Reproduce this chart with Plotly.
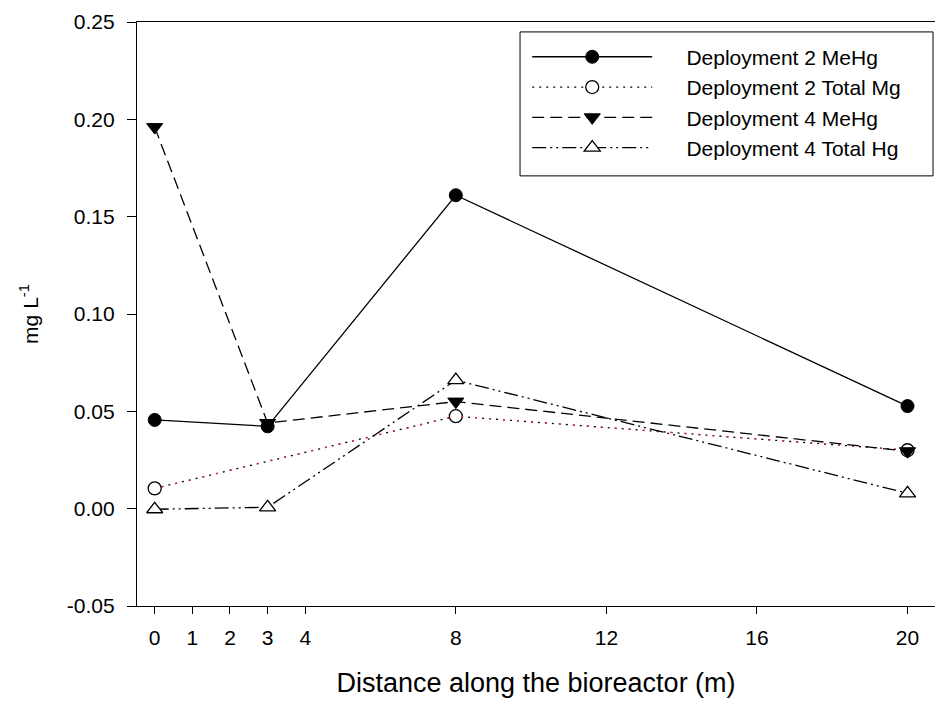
import plotly.graph_objects as go

distance = [0, 3, 8, 20]
d2_mehg = [0.0456, 0.0423, 0.161, 0.0527]
d2_total_x = [0, 8, 20]
d2_total = [0.0104, 0.0475, 0.030]
d4_mehg = [0.196, 0.044, 0.055, 0.0295]
d4_total = [-0.0003, 0.0007, 0.066, 0.0079]

series_names = ["Deployment 2 MeHg", "Deployment 2 Total Mg",
                "Deployment 4 MeHg", "Deployment 4 Total Hg"]

x_ticks = [0, 1, 2, 3, 4, 8, 12, 16, 20]
y_ticks = [-0.05, 0.00, 0.05, 0.10, 0.15, 0.20, 0.25]
y_tick_text = ["-0.05", "0.00", "0.05", "0.10", "0.15", "0.20", "0.25"]

FONT = "Liberation Sans, Arial, sans-serif"
PAD = "\u00a0" * 5

fig = go.Figure()

fig.add_trace(go.Scatter(
    x=distance, y=d2_mehg, name=PAD + series_names[0], mode="lines+markers",
    line=dict(color="black", width=1.3, dash="solid"),
    marker=dict(symbol="circle", size=13, color="black", line=dict(color="black", width=1)),
))
fig.add_trace(go.Scatter(
    x=d2_total_x, y=d2_total, name=PAD + series_names[1], mode="lines+markers",
    line=dict(color="black", width=1.3, dash="2px,5px"),
    marker=dict(symbol="circle", size=13, color="white", line=dict(color="black", width=1.3)),
))
fig.add_trace(go.Scatter(
    x=d2_total_x, y=d2_total, showlegend=False, mode="lines", hoverinfo="skip",
    line=dict(color="#e03030", width=1.3, dash="0px,7px,2px,5px"),
))
fig.add_trace(go.Scatter(
    x=distance, y=d4_mehg, name=PAD + series_names[2], mode="lines+markers",
    line=dict(color="black", width=1.3, dash="12px,6px"),
    marker=dict(symbol="triangle-down", size=14, color="black", line=dict(color="black", width=1)),
))
fig.add_trace(go.Scatter(
    x=distance, y=d4_total, name=PAD + series_names[3], mode="lines+markers",
    line=dict(color="black", width=1.3, dash="14px,4px,2px,4px,2px,4px"),
    marker=dict(symbol="triangle-up", size=14, color="white", line=dict(color="black", width=1.3)),
))

fig.update_layout(
    width=935, height=704,
    margin=dict(l=137, r=0, t=22, b=98),
    paper_bgcolor="white", plot_bgcolor="white",
    font=dict(family=FONT, size=21, color="black"),
    showlegend=True,
    legend=dict(
        x=0.489, y=0.975, xanchor="left", yanchor="top",
        bgcolor="rgba(0,0,0,0)", borderwidth=0,
        font=dict(family=FONT, size=21, color="black"),
        itemwidth=120,
    ),
    shapes=[dict(type="rect", xref="paper", yref="paper",
                 x0=0.480, x1=0.9975, y0=0.7365, y1=0.983,
                 line=dict(color="black", width=1), fillcolor="rgba(0,0,0,0)")],
)

fig.update_xaxes(
    range=[-0.47, 20.73], tickvals=x_ticks, ticks="outside", ticklen=7, tickwidth=1,
    tickcolor="black", showline=True, linecolor="black", linewidth=1.3, mirror=True,
    showgrid=False, zeroline=False, ticklabelstandoff=6,
    tickfont=dict(family=FONT, size=21, color="black"),
    title=dict(text="Distance along the bioreactor (m)", standoff=24,
               font=dict(family=FONT, size=27, color="black")),
)
fig.update_yaxes(
    range=[-0.05, 0.25], tickvals=y_ticks, ticktext=y_tick_text, ticks="outside",
    ticklen=9, tickwidth=1, tickcolor="black", showline=True, linecolor="black",
    linewidth=1.3, mirror=False, showgrid=False, zeroline=False, ticklabelstandoff=8,
    tickfont=dict(family=FONT, size=21, color="black"),
    title=dict(text="mg L<sup>-1</sup>", standoff=22,
               font=dict(family=FONT, size=21, color="black")),
)

fig.write_html(
    "out.html",
    config={"displayModeBar": False},
    post_script="document.body.style.margin='0';document.body.style.overflow='hidden';",
)
